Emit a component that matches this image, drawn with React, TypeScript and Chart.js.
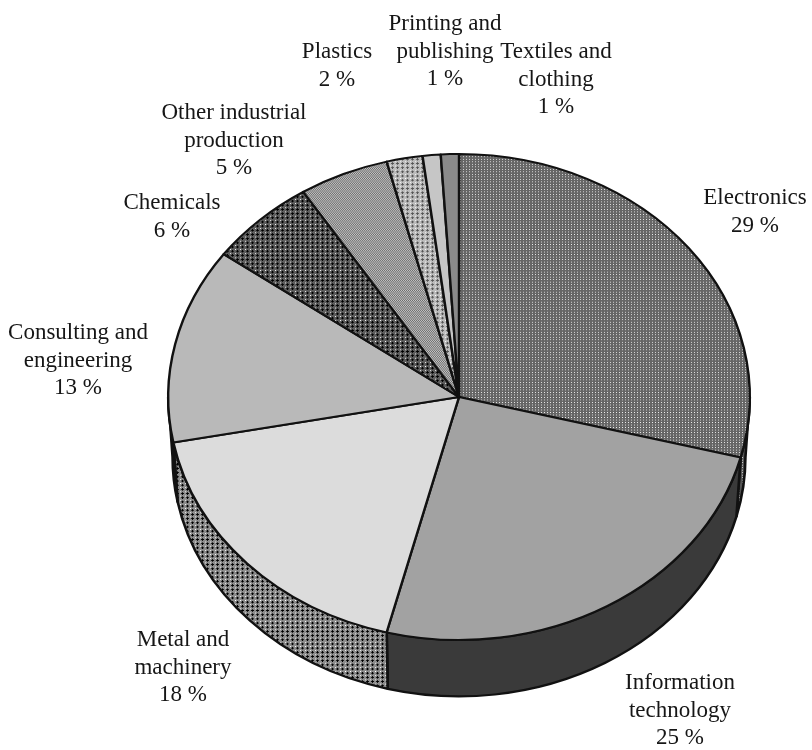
import React, { useEffect, useRef } from "react";
import { Chart, registerables } from "chart.js";

Chart.register(...registerables);

// ---- data ----
const categories = [
  "Electronics",
  "Information technology",
  "Metal and machinery",
  "Consulting and engineering",
  "Chemicals",
  "Other industrial production",
  "Plastics",
  "Printing and publishing",
  "Textiles and clothing",
];
const shares = [29, 25, 18, 13, 6, 5, 2, 1, 1];
const labelLines = [
  ["Electronics"],
  ["Information", "technology"],
  ["Metal and", "machinery"],
  ["Consulting and", "engineering"],
  ["Chemicals"],
  ["Other industrial", "production"],
  ["Plastics"],
  ["Printing and", "publishing"],
  ["Textiles and", "clothing"],
];

// ---- layout / style (kept apart from data) ----
// label block offset (first line centre) relative to pie centre
const labelOffsets: [number, number][] = [
  [296, -199],
  [221, 286],
  [-276, 243],
  [-381, -64],
  [-287, -194],
  [-225, -284],
  [-122, -345],
  [-14, -373],
  [97, -345],
];
const TILT = 244 / 292;
const DEPTH = 60;
const SHRINK = 0.985;
const LINE_H = 27.5;
const FONT = '23px "Liberation Serif", "Times New Roman", serif';

type Painter = (g: CanvasRenderingContext2D) => void;
function tile(size: number, draw: Painter): CanvasPattern | string {
  const c = document.createElement("canvas");
  c.width = size;
  c.height = size;
  const g = c.getContext("2d")!;
  draw(g);
  const p = g.createPattern(c, "repeat");
  return p || "#888";
}
function dots(bg: string, dot: string): CanvasPattern | string {
  return tile(3, (g) => {
    g.fillStyle = bg;
    g.fillRect(0, 0, 3, 3);
    g.fillStyle = dot;
    g.fillRect(1, 1, 1, 1);
  });
}
function checker(a: string, b: string): CanvasPattern | string {
  return tile(2, (g) => {
    g.fillStyle = a;
    g.fillRect(0, 0, 2, 2);
    g.fillStyle = b;
    g.fillRect(0, 0, 1, 1);
    g.fillRect(1, 1, 1, 1);
  });
}
function crosses(bg: string, fg: string, hi: string): CanvasPattern | string {
  return tile(5, (g) => {
    g.fillStyle = bg;
    g.fillRect(0, 0, 5, 5);
    g.fillStyle = fg;
    g.fillRect(1, 2, 3, 1);
    g.fillRect(2, 1, 1, 3);
    g.fillStyle = hi;
    g.fillRect(0, 0, 1, 1);
  });
}

const pie3d = {
  id: "pie3d",
  beforeDatasetsDraw(chart: any) {
    const meta = chart.getDatasetMeta(0);
    const arcs = meta.data;
    const ctx: CanvasRenderingContext2D = chart.ctx;
    ctx.save();
    if (!arcs.length) return;
    const p0 = arcs[0].getProps(["x", "y", "outerRadius"], true);
    const cx = p0.x, cy = p0.y, r = p0.outerRadius;
    ctx.translate(cx, cy);
    ctx.scale(1, TILT);
    ctx.translate(-cx, -cy);
    const D = DEPTH / TILT;
    const r2 = r * SHRINK;
    const sideFills = chart.$sideFills || [];
    arcs.forEach((arc: any, i: number) => {
      const { startAngle, endAngle } = arc.getProps(["startAngle", "endAngle"], true);
      const a1 = Math.max(startAngle, 0);
      const a2 = Math.min(endAngle, Math.PI);
      if (a2 <= a1) return;
      ctx.beginPath();
      ctx.arc(cx, cy, r, a1, a2);
      ctx.arc(cx, cy + D, r2, a2, a1, true);
      ctx.closePath();
      ctx.fillStyle = sideFills[i] || "#555";
      ctx.fill();
      ctx.lineWidth = 2.6;
      ctx.lineJoin = "round";
      ctx.strokeStyle = "#111";
      ctx.stroke();
    });
  },
  afterDatasetsDraw(chart: any) {
    chart.ctx.restore();
  },
  afterDraw(chart: any) {
    const meta = chart.getDatasetMeta(0);
    const arcs = meta.data;
    if (!arcs.length) return;
    const p0 = arcs[0].getProps(["x", "y"], true);
    const ctx: CanvasRenderingContext2D = chart.ctx;
    ctx.save();
    ctx.font = FONT;
    ctx.fillStyle = "#161616";
    ctx.textAlign = "center";
    ctx.textBaseline = "middle";
    const data = chart.data.datasets[0].data as number[];
    labelLines.forEach((lines, i) => {
      const [dx, dy] = labelOffsets[i];
      const all = [...lines, `${data[i]} %`];
      all.forEach((t, j) => {
        ctx.fillText(t, p0.x + dx, p0.y + dy + j * LINE_H);
      });
    });
    ctx.restore();
  },
};

export default function App() {
  const ref = useRef<HTMLCanvasElement | null>(null);
  useEffect(() => {
    document.body.style.margin = "0";
    const canvas = ref.current!;
    const topFills = [
      dots("#666666", "#ececec"),
      "#a2a2a2",
      "#dcdcdc",
      "#b9b9b9",
      crosses("#5c5c5c", "#000000", "#ffffff"),
      checker("#6a6a6a", "#c8c8c8"),
      crosses("#bcbcbc", "#555555", "#ffffff"),
      "#c6c6c6",
      "#8a8a8a",
    ];
    const sideFills = [
      dots("#555555", "#dcdcdc"),
      "#3a3a3a",
      crosses("#8c8c8c", "#000000", "#ffffff"),
      "#9a9a9a",
      "#555",
      "#777",
      "#999",
      "#aaa",
      "#777",
    ];
    const chart: any = new Chart(canvas, {
      type: "pie",
      data: {
        labels: categories,
        datasets: [
          {
            data: shares,
            backgroundColor: topFills as any,
            borderColor: "#111111",
            borderWidth: 2.4,
            borderJoinStyle: "round",
          } as any,
        ],
      },
      options: {
        responsive: false,
        animation: false,
        layout: { padding: { left: 167, right: 61, top: 105, bottom: 61 } },
        plugins: {
          legend: { display: false },
          tooltip: { enabled: false },
        },
        events: [],
      },
      plugins: [pie3d as any],
    });
    chart.$sideFills = sideFills;
    chart.draw();
    return () => chart.destroy();
  }, []);
  return (
    <div style={{ position: "absolute", left: 0, top: 0, width: 812, height: 750, background: "#ffffff" }}>
      <canvas ref={ref} width={812} height={750} />
    </div>
  );
}
